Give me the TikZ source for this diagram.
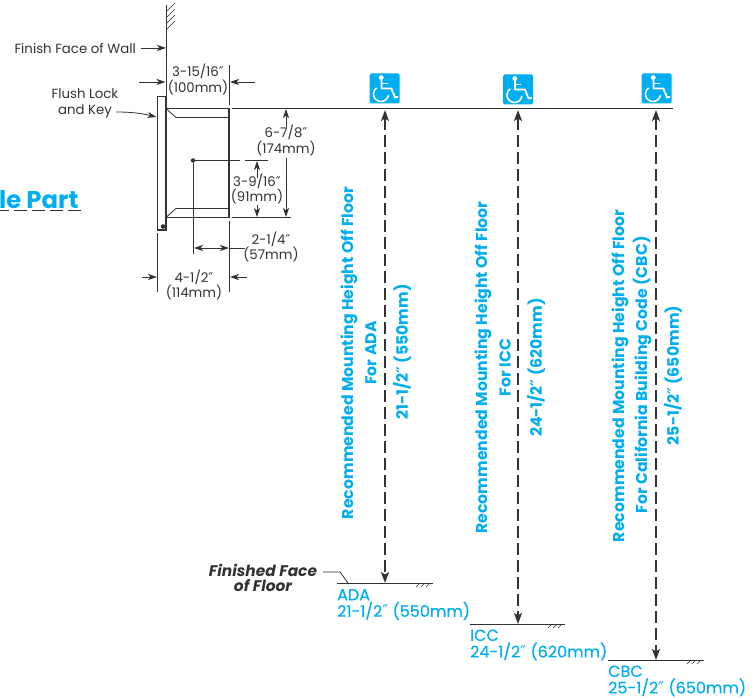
\documentclass[tikz,border=0pt]{standalone}
\usepackage{fontspec}
\usepackage{xcolor}
\usetikzlibrary{arrows.meta,positioning}
\setmainfont{Poppins}
\newfontfamily\primefont{DejaVu Sans}
\newcommand{\inch}{{\primefont ″}}
\definecolor{cyanlabel}{RGB}{0, 174, 239}
\definecolor{inkdark}{RGB}{50, 50, 52}
\tikzstyle{dimtext} = [
    text=inkdark,
    align=center,
    inner sep=0pt,
    font=\fontsize{13.3}{15.5}\selectfont
]
\tikzstyle{bluetext} = [
    text=cyanlabel,
    align=left,
    inner sep=0pt,
    anchor=west,
    font=\fontsize{16}{16.5}\selectfont\addfontfeature{FakeBold=0.3}
]
\tikzstyle{sidetext} = [
    text=cyanlabel,
    rotate=90,
    inner sep=0pt,
    font=\bfseries\fontsize{15.7}{12}\selectfont
]
\tikzstyle{accessbox} = [
    rectangle,
    rounded corners=1.5pt,
    fill=cyanlabel,
    minimum width=30pt,
    minimum height=30pt,
    inner sep=0pt
]
\tikzstyle{outline} = [
    draw=inkdark,
    line width=1.3pt
]
\tikzstyle{thin line} = [
    draw=inkdark,
    line width=0.8pt
]
\tikzstyle{arrow} = [
    line width=0.8pt,
    -{Stealth[length=9pt,width=6pt,inset=2.5pt]},
    draw=inkdark
]
\tikzstyle{both arrow} = [
    line width=0.8pt,
    {Stealth[length=9pt,width=6pt,inset=2.5pt]}-{Stealth[length=9pt,width=6pt,inset=2.5pt]},
    draw=inkdark
]
\tikzstyle{height arrow} = [
    line width=1.8pt,
    {Stealth[length=11pt,width=8pt,inset=2.5pt]}-{Stealth[length=11pt,width=8pt,inset=2.5pt]},
    draw=inkdark,
    dash pattern=on 12pt off 5pt
]
\tikzset{
    wheelchair/.pic={
        \draw[white,line width=1.8pt,line cap=round,line join=round]
            (-3,-9) -- (-3,0) -- (7,0) -- (10.5,9) -- (13,8.5);
        \draw[white,line width=1.5pt] (-3,-5) -- (3,-5);
        \fill[white] (-3.3,-11) circle (2.4);
        \draw[white,line width=1.6pt] (-3.5,5.5) ++(235:7.5) arc[start angle=235,end angle=10,radius=7.5];
    }
}
\begin{document}
\begin{tikzpicture}[x=1pt,y=-1pt]
    \useasboundingbox (0,0) rectangle (753,698);

    % wall and dispenser
    \coordinate (walltop) at (166,5);
    \coordinate (wallfoot) at (166,97);
    \draw[thin line] (walltop) -- (wallfoot);
    \foreach \y in {12,18,24,30}
        \draw[thin line,line width=0.5pt] (166,\y) -- (175,\y-9);
    \node[rectangle,outline,minimum width=8.5pt,minimum height=133.5pt,inner sep=0pt] (panel) at (161.75,163.25) {};
    \node[rectangle,outline,minimum width=63pt,minimum height=109pt,inner sep=0pt] (cabinet) at (197.5,163) {};
    \draw[thin line] (166,108.5) -- (176,117.5) -- (229,117.5);
    \draw[thin line] (166,217.5) -- (176,208.5) -- (229,208.5);
    \fill[inkdark] (163,226.5) circle (2.3);

    % witness lines
    \coordinate (rightup) at (229,65);
    \coordinate (rightupend) at (229,105);
    \coordinate (rightlow) at (229,221);
    \coordinate (rightlowend) at (229,292);
    \coordinate (leftlow) at (157.5,233);
    \coordinate (leftlowend) at (157.5,292);
    \coordinate (topline) at (232,108.5);
    \coordinate (toplineend) at (673,108.5);
    \coordinate (botline) at (232,217.5);
    \coordinate (botlineend) at (291,217.5);
    \node[circle,fill=inkdark,inner sep=0pt,minimum size=4.5pt] (centre) at (193,160.5) {};
    \coordinate (centregap) at (240,160.5);
    \coordinate (centrenext) at (245,160.5);
    \coordinate (centreend) at (268,160.5);
    \coordinate (centrefoot) at (193,254);
    \draw[thin line] (rightup) -- (rightupend);
    \draw[thin line] (rightlow) -- (rightlowend);
    \draw[thin line] (leftlow) -- (leftlowend);
    \draw[thin line] (topline) -- (toplineend);
    \draw[thin line] (botline) -- (botlineend);
    \draw[thin line] (centre) -- (centregap);
    \draw[thin line] (centrenext) -- (centreend);
    \draw[thin line] (centre) -- (centrefoot);

    % callouts
    \node[dimtext,anchor=east] (finishwall) at (136,48) {Finish Face of Wall};
    \coordinate (finishtail) at (141,48);
    \coordinate (finishtip) at (166,48);
    \draw[arrow] (finishtail) -- (finishtip);
    \node[dimtext] (flushlock) at (85,103.5) {Flush Lock\\and Key};
    \coordinate (flushtail) at (116,112);
    \coordinate (flushtip) at (156.5,117);
    \draw[arrow] (flushtail) .. controls (130,112) and (140,113) .. (flushtip);

    % small dimensions
    \node[dimtext] (depthbox) at (198,79.5) {3-15/16\inch\\(100mm)};
    \node[dimtext] (heightbox) at (286,140.5) {6-7/8\inch\\(174mm)};
    \node[dimtext] (centrebox) at (257,189) {3-9/16\inch\\(91mm)};
    \node[dimtext] (offsetbox) at (271,247) {2-1/4\inch\\(57mm)};
    \node[dimtext] (totalbox) at (194,285) {4-1/2\inch\\(114mm)};
    \coordinate (a1) at (139,82); \coordinate (a2) at (165.5,82);
    \coordinate (a3) at (255,82); \coordinate (a4) at (230,82);
    \coordinate (b1) at (286,127); \coordinate (b2) at (286,109);
    \coordinate (b3) at (286,158); \coordinate (b4) at (286,217);
    \coordinate (c1) at (257,178); \coordinate (c2) at (257,161);
    \coordinate (c3) at (257,205); \coordinate (c4) at (257,217);
    \coordinate (d1) at (194,248); \coordinate (d2) at (229,248); \coordinate (d3) at (245,248);
    \coordinate (e1) at (142,277); \coordinate (e2) at (157,277);
    \coordinate (e3) at (247,277); \coordinate (e4) at (230,277);
    \draw[arrow] (a1) -- (a2);
    \draw[arrow] (a3) -- (a4);
    \draw[arrow] (b1) -- (b2);
    \draw[arrow] (b3) -- (b4);
    \draw[arrow] (c1) -- (c2);
    \draw[arrow] (c3) -- (c4);
    \draw[both arrow] (d1) -- (d2);
    \draw[thin line] (d2) -- (d3);
    \draw[arrow] (e1) -- (e2);
    \draw[arrow] (e3) -- (e4);

    % mounting heights
    \node[accessbox] (adaicon) at (384.5,88.5) {};
    \node[accessbox] (iccicon) at (518,89.5) {};
    \node[accessbox] (cbcicon) at (656.5,88.5) {};
    \foreach \icon in {adaicon,iccicon,cbcicon}
        \pic at (\icon) {wheelchair};

    \coordinate (adatop) at (385,110);
    \coordinate (iccup) at (518,110);
    \coordinate (cbctop) at (656,110);
    \coordinate (adafloor) at (385,583);
    \coordinate (iccfloor) at (518,624);
    \coordinate (cbcfloor) at (656,660);
    \draw[height arrow] (adatop) -- (adafloor);
    \draw[height arrow] (iccup) -- (iccfloor);
    \draw[height arrow] (cbctop) -- (cbcfloor);

    \coordinate (adaleft) at (337,583); \coordinate (adaright) at (433,583);
    \coordinate (iccleft) at (470,624); \coordinate (iccright) at (565,624);
    \coordinate (cbcleft) at (608,660); \coordinate (cbcright) at (704,660);
    \draw[outline,line width=1pt] (adaleft) -- (adaright);
    \draw[outline,line width=1pt] (iccleft) -- (iccright);
    \draw[outline,line width=1pt] (cbcleft) -- (cbcright);
    \foreach \x/\y in {416/583,548/624,687/660} {
        \draw[thin line,line width=0.5pt] (\x,\y+4) -- (\x+4,\y);
        \draw[thin line,line width=0.5pt] (\x+5,\y+4) -- (\x+9,\y);
        \draw[thin line,line width=0.5pt] (\x+10,\y+4) -- (\x+14,\y);
    }

    \node[sidetext] (adalong) at (349,353) {Recommended Mounting Height Off Floor};
    \node[sidetext] (adafor) at (371,353) {For ADA};
    \node[sidetext] (adasize) at (402,352) {21-1/2\inch\ (550mm)};
    \node[sidetext] (icclong) at (483,367.5) {Recommended Mounting Height Off Floor};
    \node[sidetext] (iccfor) at (505,367.5) {For ICC};
    \node[sidetext] (iccsize) at (536,367.5) {24-1/2\inch\ (620mm)};
    \node[sidetext] (cbclong) at (620,376) {Recommended Mounting Height Off Floor};
    \node[sidetext] (cbcfor) at (642,375) {For California Building Code (CBC)};
    \node[sidetext] (cbcsize) at (673,375.5) {25-1/2\inch\ (650mm)};

    \node[bluetext] (adalabel) at (337,604.5) {ADA\\21-1/2\inch\ (550mm)};
    \node[bluetext] (icclabel) at (470,645) {ICC\\24-1/2\inch\ (620mm)};
    \node[bluetext] (cbclabel) at (608,681) {CBC\\25-1/2\inch\ (650mm)};

    % floor callout
    \node[dimtext,font=\bfseries\itshape\fontsize{15.4}{15}\selectfont] (finishfloor) at (263,577.5) {Finished Face\\of Floor};
    \coordinate (floorstart) at (323,572);
    \coordinate (floorbend) at (340,572);
    \coordinate (floortip) at (348,583);
    \draw[thin line] (floorstart) -- (floorbend) -- (floortip);

    % cut off heading
    \node[anchor=base west,inner sep=0pt,text=cyanlabel,font=\bfseries\fontsize{24.3}{24}\selectfont] (parthead) at (-1,208) {le Part};
    \coordinate (underleft) at (0,210.5);
    \coordinate (underright) at (81,210.5);
    \draw[inkdark,line width=1.8pt,dash pattern=on 13pt off 5pt,dash phase=4pt] (underleft) -- (underright);
\end{tikzpicture}
\end{document}
